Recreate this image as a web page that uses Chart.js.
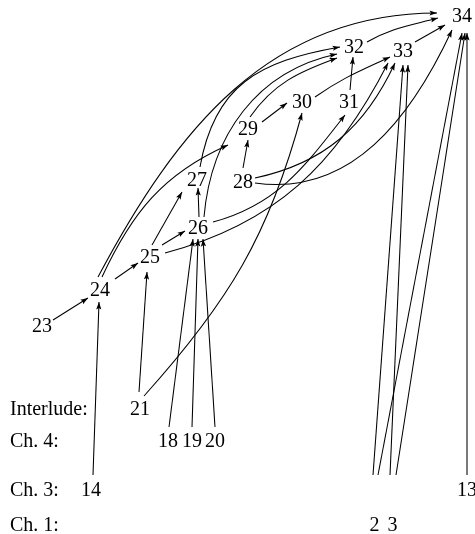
<!DOCTYPE html>
<html>
<head>
<meta charset="utf-8">
<script src="https://cdn.jsdelivr.net/npm/chart.js@4/dist/chart.umd.min.js"></script>
<style>
  html, body { margin: 0; background: #fff; }
  #wrap { width: 475px; height: 534px; }
</style>
</head>
<body>
<div id="wrap"><canvas id="graph"></canvas></div>
<script>
// nodes (chapter numbers) and where they sit
const nodeNames = ['34', '32', '33', '30', '31', '29', '28', '27', '26', '25', '24', '23', '21', '18', '19', '20', '14', '13', '2', '3'];
const nodeX = [462, 354, 403, 302, 349, 248, 243, 197, 198, 150, 100, 42, 140, 168, 192, 215, 91, 467, 374.5, 392.5];
const nodeY = [15, 46, 50, 101, 101, 128, 181, 179, 227, 256, 289, 325, 408, 440, 440, 440, 489, 489, 524, 524];

// row captions on the left
const rowLabels = ['Interlude:', 'Ch. 4:', 'Ch. 3:', 'Ch. 1:'];
const rowY = [408, 440, 489, 524];

// dependencies: from -> to
const edgeFrom = ['23', '24', '14', '21', '18', '19', '20', '25', '25', '26', '24', '24', '27', '26', '29', '28', '29', '30', '31', '32', '33', '21', '26', '25', '28', '28', '2', '2', '3', '3', '13'];
const edgeTo = ['24', '25', '24', '25', '26', '26', '26', '26', '27', '27', '34', '29', '32', '32', '32', '29', '30', '33', '32', '34', '34', '30', '31', '33', '33', '34', '33', '34', '33', '34', '34'];

// how each edge is drawn: start/end offsets from the label centre (px), bend angles
const edgeShape = {
  '23>24': { s: [11, -5], e: [-12, 9] },
  '24>25': { s: [15, -10], e: [-12, 7] },
  '14>24': { s: [2, -14], e: [-1, 13] },
  '21>25': { s: [-1, -16], e: [-3, 16] },
  '18>26': { s: [1, -13], e: [-5, 12] },
  '19>26': { s: [0, -13], e: [0, 12] },
  '20>26': { s: [0, -13], e: [5, 12] },
  '25>26': { s: [12, -11], e: [-13, 4] },
  '25>27': { s: [2, -11], e: [-15, 13] },
  '26>27': { s: [1, -10], e: [1, 9] },
  '24>34': { s: [-2, -12], e: [-25, -2], out: 62, in: 180 },
  '24>29': { s: [2, -12], e: [-20, 17], out: 65, in: 204 },
  '27>32': { s: [3, -12], e: [-14, 1], out: 80, in: 190, k: 0.45 },
  '26>32': { s: [6, -10], e: [-17, 8], out: 85, in: 192 },
  '29>32': { s: [2, -11], e: [-17, 12], out: 55, in: 200 },
  '28>29': { s: [0, -13], e: [0, 12] },
  '29>30': { s: [14, -6], e: [-15, 2] },
  '30>33': { s: [13, -4], e: [-13, 7], out: 35, in: 205 },
  '31>32': { s: [1, -11], e: [-1, 11] },
  '32>34': { s: [13, -4], e: [-24, 3], out: 30, in: 195 },
  '33>34': { s: [12, -8], e: [-17, 10] },
  '21>30': { s: [4, -12], e: [0, 12], out: 48, in: 255 },
  '26>31': { s: [15, -5], e: [-4, 14], out: 15, in: 232 },
  '25>33': { s: [15, -3], e: [-15, 13], out: 15, in: 243 },
  '28>33': { s: [12, -3], e: [-8, 13], out: 12, in: 245 },
  '28>34': { s: [12, 2], e: [-10, 15], out: -8, in: 245 },
  '2>33': { s: [-1.5, -49], e: [0, 15] },
  '2>34': { s: [3.5, -49], e: [0, 18] },
  '3>33': { s: [-2.5, -49], e: [5, 15] },
  '3>34': { s: [3.5, -49], e: [3, 18] },
  '13>34': { s: [0, -14], e: [5, 18] }
};

const FONT = '20px "Liberation Serif", "Times New Roman", serif';
const rad = a => a * Math.PI / 180;

function arrowHead(ctx, x, y, ux, uy) {
  const len = 7.5, half = 2.6;
  const n = Math.hypot(ux, uy);
  ux /= n; uy /= n;
  ctx.beginPath();
  ctx.moveTo(x, y);
  ctx.lineTo(x - len * ux - half * uy, y - len * uy + half * ux);
  ctx.lineTo(x - len * ux * 0.8, y - len * uy * 0.8);
  ctx.lineTo(x - len * ux + half * uy, y - len * uy - half * ux);
  ctx.closePath();
  ctx.fill();
}

const graphPlugin = {
  id: 'graphPlugin',
  afterDatasetsDraw(chart) {
    const { ctx, scales } = chart;
    const px = name => scales.x.getPixelForValue(nodeX[nodeNames.indexOf(name)]);
    const py = name => scales.y.getPixelForValue(nodeY[nodeNames.indexOf(name)]);

    ctx.save();
    ctx.strokeStyle = '#000';
    ctx.fillStyle = '#000';
    ctx.lineWidth = 1.05;

    edgeFrom.forEach((from, i) => {
      const to = edgeTo[i];
      const sh = edgeShape[from + '>' + to];
      const x1 = px(from) + sh.s[0], y1 = py(from) + sh.s[1];
      const x2 = px(to) + sh.e[0], y2 = py(to) + sh.e[1];
      ctx.beginPath();
      ctx.moveTo(x1, y1);
      let dx = x2 - x1, dy = y2 - y1;
      if (sh.out !== undefined) {
        const k = (sh.k || 0.39) * Math.hypot(dx, dy);
        const c1x = x1 + k * Math.cos(rad(sh.out)), c1y = y1 - k * Math.sin(rad(sh.out));
        const c2x = x2 + k * Math.cos(rad(sh.in)), c2y = y2 - k * Math.sin(rad(sh.in));
        ctx.bezierCurveTo(c1x, c1y, c2x, c2y, x2, y2);
        dx = x2 - c2x; dy = y2 - c2y;
      } else {
        ctx.lineTo(x2, y2);
      }
      ctx.stroke();
      arrowHead(ctx, x2, y2, dx, dy);
    });

    ctx.font = FONT;
    ctx.textBaseline = 'alphabetic';
    ctx.textAlign = 'center';
    nodeNames.forEach((name, i) => {
      ctx.fillText(name, scales.x.getPixelForValue(nodeX[i]), scales.y.getPixelForValue(nodeY[i]) + 6.8);
    });

    ctx.textAlign = 'left';
    rowLabels.forEach((label, i) => {
      ctx.fillText(label, chart.chartArea.left + 10, scales.y.getPixelForValue(rowY[i]) + 6.8);
    });
    ctx.restore();
  }
};

new Chart(document.getElementById('graph'), {
  type: 'scatter',
  data: {
    datasets: [{
      data: nodeNames.map((n, i) => ({ x: nodeX[i], y: nodeY[i] })),
      pointRadius: 0,
      pointHoverRadius: 0
    }]
  },
  options: {
    responsive: true,
    maintainAspectRatio: false,
    animation: false,
    layout: { padding: 0 },
    scales: {
      x: { type: 'linear', min: 0, max: 475, display: false },
      y: { type: 'linear', min: 0, max: 534, reverse: true, display: false }
    },
    plugins: {
      legend: { display: false },
      tooltip: { enabled: false }
    }
  },
  plugins: [graphPlugin]
});
</script>
</body>
</html>
